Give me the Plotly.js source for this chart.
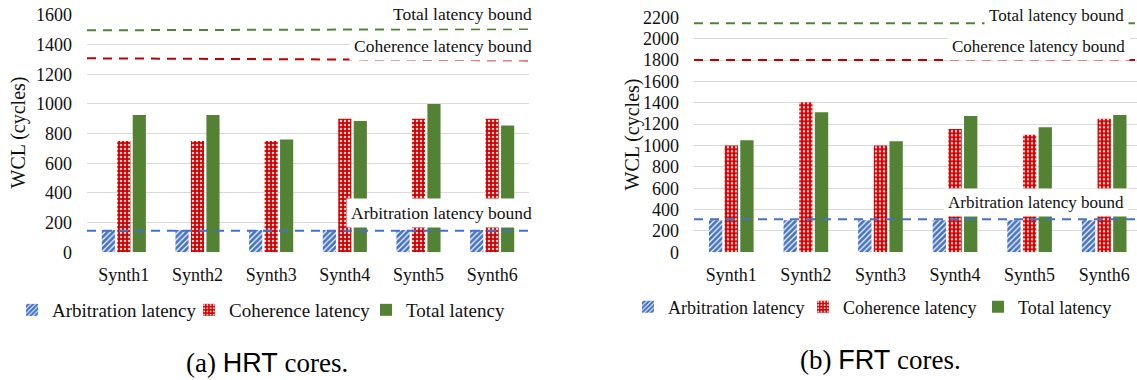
<!DOCTYPE html>
<html>
<head>
<meta charset="utf-8">
<script src="https://cdn.plot.ly/plotly-3.0.1.min.js"></script>
<style>html,body{margin:0;padding:0;background:#fff;} #chart{width:1137px;height:380px;}</style>
</head>
<body>
<div id="chart"></div>
<script>
// ---- data ----
const categories = ['Synth1', 'Synth2', 'Synth3', 'Synth4', 'Synth5', 'Synth6'];
const seriesNames = ['Arbitration latency', 'Coherence latency', 'Total latency'];

// (a) HRT cores
const hrtArbitration = [150, 150, 150, 150, 150, 150];
const hrtCoherence = [750, 750, 750, 900, 900, 900];
const hrtTotal = [925, 925, 760, 885, 1000, 855];
const hrtArbitrationBound = [145, 145];
const hrtCoherenceBound = [1308, 1294];
const hrtTotalBound = [1497, 1505];

// (b) FRT cores
const frtArbitration = [300, 300, 300, 300, 300, 300];
const frtCoherence = [1000, 1405, 1000, 1155, 1100, 1250];
const frtTotal = [1050, 1310, 1040, 1275, 1170, 1285];
const frtArbitrationBound = [310, 310];
const frtCoherenceBound = [1800, 1800];
const frtTotalBound = [2145, 2145];

const boundLabels = ['Arbitration latency bound', 'Coherence latency bound', 'Total latency bound'];
const captions = ['(a) <span style="font-family:Liberation Sans, Arial, sans-serif">HRT</span> cores.',
                  '(b) <span style="font-family:Liberation Sans, Arial, sans-serif">FRT</span> cores.'];
const yTitle = 'WCL (cycles)';

// ---- styling ----
const W = 1137, H = 380;
const px = v => v / W;
const py = v => 1 - v / H;
const SERIF = '"Liberation Serif", Tinos, "Times New Roman", Times, "DejaVu Serif", serif';
const BLUE = '#4472C4', RED = '#D00000', GREEN = '#548235', DRED = '#C00000';

function barTraces(vals, xa, ya, legend) {
  const styles = [
    {color: BLUE, pattern: {shape: '/', fgcolor: BLUE, bgcolor: '#ffffff', size: 4, solidity: 0.7, fillmode: 'replace'}},
    {color: RED, pattern: {shape: '.', fgcolor: '#ffd0d0', bgcolor: RED, size: 4, solidity: 0.3, fillmode: 'replace'}},
    {color: GREEN}
  ];
  return vals.map((v, i) => ({
    type: 'bar', x: categories, y: v, name: seriesNames[i],
    xaxis: xa, yaxis: ya, legend: legend,
    marker: Object.assign({line: {width: 0}}, styles[i]),
    hoverinfo: 'y'
  }));
}
function boundTraces(bounds, xa, ya) {
  const cols = [BLUE, DRED, GREEN];
  return bounds.map((b, i) => ({
    type: 'scatter', mode: 'lines', x: [0, 1], y: b, xaxis: xa, yaxis: ya,
    showlegend: false, hoverinfo: 'skip',
    line: {color: cols[i], width: 2, dash: '9px,7px'}
  }));
}

const data = [].concat(
  barTraces([hrtArbitration, hrtCoherence, hrtTotal], 'x', 'y', 'legend'),
  barTraces([frtArbitration, frtCoherence, frtTotal], 'x2', 'y2', 'legend2'),
  boundTraces([hrtArbitrationBound, hrtCoherenceBound, hrtTotalBound], 'x3', 'y'),
  boundTraces([frtArbitrationBound, frtCoherenceBound, frtTotalBound], 'x4', 'y2')
);

const tickFont = {family: SERIF, size: 18, color: '#111'};
const yBase = {
  showgrid: true, gridcolor: '#d9d9d9', gridwidth: 1, zeroline: false,
  showline: false, ticks: '', tickfont: tickFont, dtick: 200, fixedrange: true,
  ticklabelstandoff: 14, automargin: false
};
const xBase = {
  type: 'category', showgrid: false, zeroline: false, showline: false, ticks: '',
  tickfont: tickFont, fixedrange: true, ticklabelstandoff: 10, automargin: false
};

const yDomA = [py(252.3), py(15)];
const yDomB = [py(252.3), py(17.3)];
const xDomA = [px(87), px(529)];
const xDomB = [px(694), 1];

const ann = [];
function boundAnn(text, xr, yc, size) {
  ann.push({text: text, xref: 'paper', yref: 'paper', x: px(xr), y: py(yc),
    xanchor: 'right', yanchor: 'middle', showarrow: false, bgcolor: '#ffffff',
    borderpad: 4, font: {family: SERIF, size: size, color: '#111'}});
}
boundAnn(boundLabels[2], 537, 14, 17.5);
boundAnn(boundLabels[1], 537, 46, 17.5);
boundAnn(boundLabels[0], 537, 212.7, 17.5);
boundAnn(boundLabels[2], 1129, 15, 17);
boundAnn(boundLabels[1], 1130, 46, 17);
boundAnn(boundLabels[0], 1129, 202.7, 17);

ann.push({text: yTitle, xref: 'paper', yref: 'paper', x: px(18), y: py(132.5), textangle: -90,
  xanchor: 'center', yanchor: 'middle', showarrow: false, font: {family: SERIF, size: 20, color: '#111'}});
ann.push({text: yTitle, xref: 'paper', yref: 'paper', x: px(632), y: py(134.5), textangle: -90,
  xanchor: 'center', yanchor: 'middle', showarrow: false, font: {family: SERIF, size: 20, color: '#111'}});
ann.push({text: captions[0], xref: 'paper', yref: 'paper', x: px(266.5), y: py(363),
  xanchor: 'center', yanchor: 'middle', showarrow: false, font: {family: SERIF, size: 27, color: '#000'}});
ann.push({text: captions[1], xref: 'paper', yref: 'paper', x: px(880), y: py(360),
  xanchor: 'center', yanchor: 'middle', showarrow: false, font: {family: SERIF, size: 27, color: '#000'}});

const layout = {
  width: W, height: H, margin: {l: 0, r: 0, t: 0, b: 0, autoexpand: false},
  paper_bgcolor: '#ffffff', plot_bgcolor: '#ffffff',
  font: {family: SERIF},
  barmode: 'group', bargap: 0.37, bargroupgap: 0.15,
  showlegend: true,
  xaxis: Object.assign({}, xBase, {domain: xDomA, anchor: 'y', range: [-0.5, 5.5]}),
  yaxis: Object.assign({}, yBase, {domain: yDomA, anchor: 'x', range: [0, 1600]}),
  xaxis2: Object.assign({}, xBase, {domain: xDomB, anchor: 'y2', range: [-0.5, 5.44]}),
  yaxis2: Object.assign({}, yBase, {domain: yDomB, anchor: 'x2', range: [0, 2200]}),
  xaxis3: {overlaying: 'x', anchor: 'y', range: [0, 1], visible: false, fixedrange: true},
  xaxis4: {overlaying: 'x2', anchor: 'y2', range: [0, 1], visible: false, fixedrange: true},
  legend: {orientation: 'h', x: px(12), y: py(310), xanchor: 'left', yanchor: 'middle',
    font: {family: SERIF, size: 19, color: '#111'}, bgcolor: 'rgba(0,0,0,0)',
    entrywidthmode: 'pixels', entrywidth: 132, itemwidth: 30, traceorder: 'normal'},
  legend2: {orientation: 'h', x: px(628), y: py(307), xanchor: 'left', yanchor: 'middle',
    font: {family: SERIF, size: 18, color: '#111'}, bgcolor: 'rgba(0,0,0,0)',
    entrywidthmode: 'pixels', entrywidth: 130, itemwidth: 30, traceorder: 'normal'},
  annotations: ann
};

Plotly.newPlot('chart', data, layout, {staticPlot: true, displayModeBar: false});
</script>
</body>
</html>
